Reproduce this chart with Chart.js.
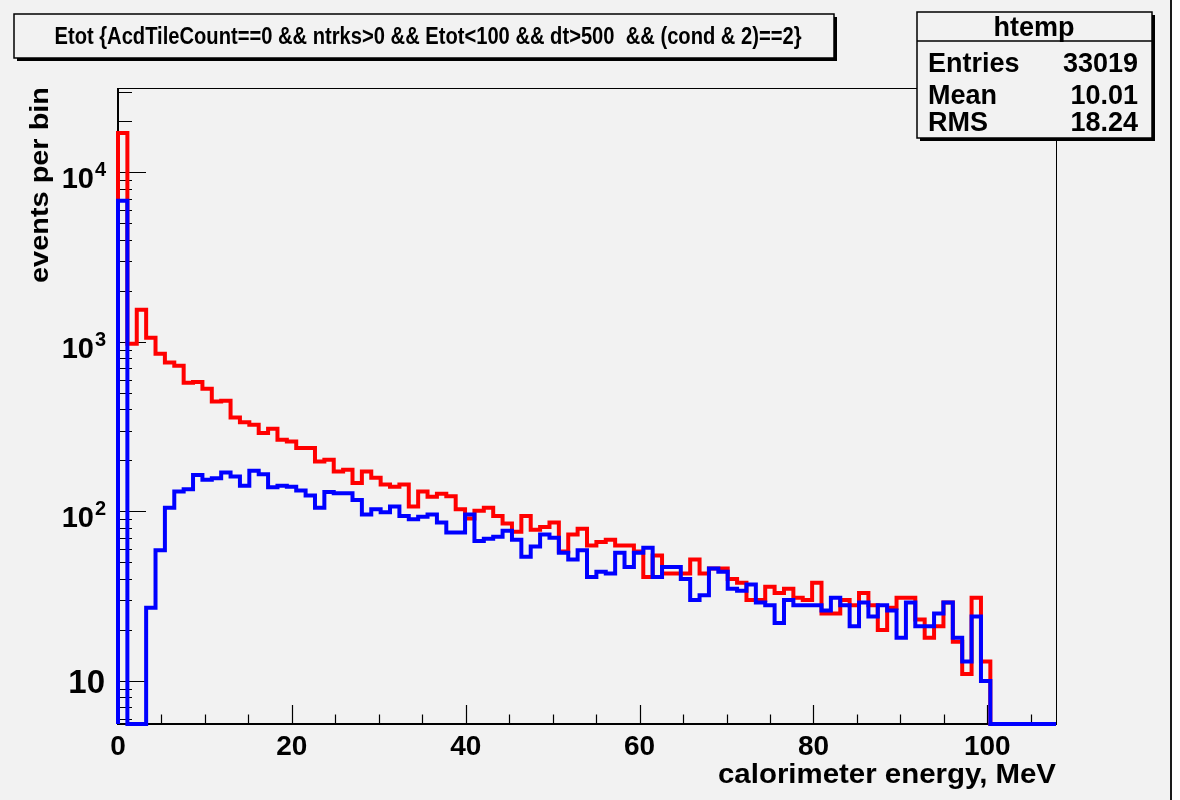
<!DOCTYPE html>
<html>
<head>
<meta charset="utf-8">
<title>Etot - calorimeter energy</title>
<script src="https://cdn.jsdelivr.net/npm/chart.js@4.4.1/dist/chart.umd.min.js"></script>
<style>
  html, body { margin: 0; padding: 0; background: #fff; }
  #wrap { width: 1180px; height: 800px; }
</style>
</head>
<body>
<div id="wrap"><canvas id="etotChart" width="1180" height="800"></canvas></div>
<script>
// 1. Data (100 bins, 0 .. 107.9 MeV; empty bins are 0)
const binWidth = 1.079;

const redCounts = [
  17100, 975, 1550, 1060, 851, 757, 723, 574, 580, 530,
  446, 450, 358, 336, 325, 290, 307, 265, 259, 237,
  237, 197, 202, 172, 176, 147, 172, 158, 144, 140,
  144, 107, 131, 122, 127, 123, 103, 91, 101, 105,
  94, 85, 76, 94, 78, 81, 86, 58, 73, 79,
  63, 66, 68, 63, 63, 58, 41, 55, 43, 43,
  43, 52, 43, 46, 46, 40, 38, 30, 30, 36,
  33, 35, 31, 30, 38, 25, 25, 30, 28, 33,
  28, 20, 27, 31, 31, 23, 18, 21, 29, 17,
  11, 31, 13, 0, 0, 0, 0, 0, 0, 0
];

const blueCounts = [
  6820, 0, 0, 27, 59, 105, 131, 135, 164, 154,
  157, 170, 161, 142, 174, 166, 139, 142, 140, 133,
  124, 105, 130, 128, 128, 117, 96, 103, 99, 107,
  94, 90, 93, 96, 86, 75, 75, 96, 67, 69,
  71, 77, 68, 54, 62, 73, 70, 57, 52, 59,
  41, 44, 43, 57, 47, 57, 61, 41, 47, 47,
  40, 30, 32, 46, 44, 35, 34, 37, 29, 28,
  22, 30, 28, 28, 28, 26, 31, 28, 21, 29,
  24, 28, 26, 18, 29, 21, 21, 25, 29, 18,
  13, 24, 10, 0, 0, 0, 0, 0, 0, 0
];

const xTickValues = [0, 20, 40, 60, 80, 100];
const yTickValues = [10, 100, 1000, 10000];
const yTickExponents = ['', '2', '3', '4'];

const statsLabels = ['Entries', 'Mean', 'RMS'];
const statsValues = ['33019', '10.01', '18.24'];

const titleText = 'Etot {AcdTileCount==0 && ntrks>0 && Etot<100 && dt>500  && (cond & 2)==2}';
const xTitle = 'calorimeter energy, MeV';
const yTitle = 'events per bin';
const statsName = 'htemp';

const Y_MIN = 5.57;
const Y_MAX = 31500;
const X_MAX = redCounts.length * binWidth;

// 2. Theme
const Config = {
    theme: {
        canvas: '#f2f2f2',
        red: '#ff0000',
        blue: '#0000ff',
        ink: '#000000'
    },
    font: '"Liberation Sans", Arial, Helvetica, sans-serif'
};

// 3. Helpers
function histPoints(counts) {
    // ROOT style outline: up from the floor at x=0, one step per bin, back to the floor
    const pts = [{ x: 0, y: Y_MIN }];
    counts.forEach((c, i) => pts.push({ x: i * binWidth, y: c > 0 ? c : Y_MIN }));
    pts.push({ x: counts.length * binWidth, y: Y_MIN });
    return pts;
}

function drawText(ctx, text, x, y, size, align, fitWidth) {
    ctx.save();
    ctx.font = 'bold ' + size + 'px ' + Config.font;
    ctx.textAlign = align;
    ctx.textBaseline = 'alphabetic';
    ctx.fillStyle = Config.theme.ink;
    let sx = 1;
    if (fitWidth) sx = fitWidth / ctx.measureText(text).width;
    ctx.translate(x, y);
    ctx.scale(sx, 1);
    ctx.fillText(text, 0, 0);
    ctx.restore();
}

function drawPave(ctx, x, y, w, h) {
    ctx.save();
    ctx.fillStyle = '#000';
    ctx.fillRect(x + 3, y + 3, w, h);
    ctx.fillStyle = Config.theme.canvas;
    ctx.fillRect(x, y, w, h);
    ctx.strokeStyle = '#000';
    ctx.lineWidth = 1.5;
    ctx.strokeRect(x, y, w, h);
    ctx.restore();
}

// 4. Frame, axes and labels (ROOT look)
const rootStylePlugin = {
    id: 'rootStyle',
    beforeDraw(chart) {
        const ctx = chart.ctx;
        ctx.save();
        ctx.fillStyle = '#ffffff';
        ctx.fillRect(0, 0, chart.width, chart.height);
        ctx.fillStyle = Config.theme.canvas;
        ctx.fillRect(0, 0, 1171, chart.height);
        ctx.fillStyle = '#1a1a1a';
        ctx.fillRect(1170, 0, 2, chart.height);
        ctx.restore();
    },
    beforeDatasetsDraw(chart) {
        const ctx = chart.ctx;
        const { left, right, top, bottom } = chart.chartArea;
        const xs = chart.scales.x;
        const ys = chart.scales.y;
        ctx.save();
        ctx.strokeStyle = '#000';
        ctx.lineWidth = 1;
        ctx.strokeRect(left + 0.5, top + 0.5, right - left, bottom - top);
        ctx.lineWidth = 2;
        ctx.beginPath();
        ctx.moveTo(left, top);
        ctx.lineTo(left, bottom);
        ctx.lineTo(right, bottom);
        ctx.stroke();

        // x ticks, inward
        ctx.lineWidth = 1.2;
        ctx.beginPath();
        for (let v = 0; v <= X_MAX; v += 5) {
            const px = Math.round(xs.getPixelForValue(v)) + 0.5;
            const len = v % 20 === 0 ? 19 : 9.5;
            ctx.moveTo(px, bottom);
            ctx.lineTo(px, bottom - len);
        }
        // y ticks, inward
        for (let d = 0; d <= 4; d++) {
            for (let m = 1; m <= 9; m++) {
                const v = m * Math.pow(10, d);
                if (v < Y_MIN || v > Y_MAX) continue;
                const py = Math.round(ys.getPixelForValue(v)) + 0.5;
                const len = m === 1 ? 28 : 14;
                ctx.moveTo(left, py);
                ctx.lineTo(left + len, py);
            }
        }
        ctx.stroke();
        ctx.restore();
    },
    afterDraw(chart) {
        const ctx = chart.ctx;
        const xs = chart.scales.x;
        const ys = chart.scales.y;

        xTickValues.forEach(v => {
            drawText(ctx, String(v), xs.getPixelForValue(v), 755, 28, 'center');
        });

        yTickValues.forEach((v, i) => {
            const py = ys.getPixelForValue(v);
            const exp = yTickExponents[i];
            if (exp) {
                drawText(ctx, '10', 94, py + 16, 29, 'right');
                drawText(ctx, exp, 95, py + 4, 20, 'left');
            } else {
                drawText(ctx, '10', 105, py + 12, 33, 'right');
            }
        });

        // axis titles
        drawText(ctx, xTitle, 1056, 783, 28, 'right', 338);
        ctx.save();
        ctx.translate(48, 87);
        ctx.rotate(-Math.PI / 2);
        drawText(ctx, yTitle, 0, 0, 26, 'right', 196);
        ctx.restore();

        // title pave
        drawPave(ctx, 14, 14, 820, 44);
        drawText(ctx, titleText, 428, 44, 23, 'center', 747);

        // stats pave
        drawPave(ctx, 917, 12, 235, 126);
        ctx.save();
        ctx.strokeStyle = '#000';
        ctx.lineWidth = 1.5;
        ctx.beginPath();
        ctx.moveTo(917, 41);
        ctx.lineTo(1152, 41);
        ctx.stroke();
        ctx.restore();
        drawText(ctx, statsName, 1034, 36, 27, 'center');
        const rowBase = [72, 104, 131];
        statsLabels.forEach((lab, i) => {
            drawText(ctx, lab, 928, rowBase[i], 27, 'left');
            drawText(ctx, statsValues[i], 1138, rowBase[i], 27, 'right');
        });
    }
};

// 5. Chart
document.addEventListener('DOMContentLoaded', () => {
    const ctx = document.getElementById('etotChart').getContext('2d');
    new Chart(ctx, {
        type: 'line',
        data: {
            datasets: [
                {
                    label: 'blue',
                    data: histPoints(blueCounts),
                    borderColor: Config.theme.blue,
                    borderWidth: 4,
                    stepped: 'before',
                    fill: false,
                    pointRadius: 0,
                    borderJoinStyle: 'miter',
                    borderCapStyle: 'butt',
                    clip: false
                },
                {
                    label: 'red',
                    data: histPoints(redCounts),
                    borderColor: Config.theme.red,
                    borderWidth: 4,
                    stepped: 'before',
                    fill: false,
                    pointRadius: 0,
                    borderJoinStyle: 'miter',
                    borderCapStyle: 'butt',
                    clip: false
                }
            ]
        },
        options: {
            responsive: false,
            animation: false,
            devicePixelRatio: 1,
            layout: { padding: { left: 118, top: 88, right: 124, bottom: 76 } },
            plugins: {
                legend: { display: false },
                tooltip: { enabled: false },
                title: { display: false }
            },
            scales: {
                x: { type: 'linear', min: 0, max: X_MAX, display: false },
                y: { type: 'logarithmic', min: Y_MIN, max: Y_MAX, display: false }
            }
        },
        plugins: [rootStylePlugin]
    });
});
</script>
</body>
</html>
